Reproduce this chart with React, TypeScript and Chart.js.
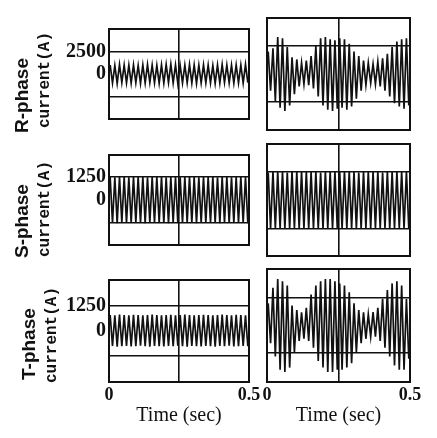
import { useEffect, useRef } from 'react';
import { Chart, registerables } from 'chart.js';

Chart.register(...registerables);

const INK = '#111111';
const TIME_START = 0;
const TIME_END = 0.5;
const HALF_CYCLES = 60;
const X_TICKS = [0, 0.25, 0.5];
const X_TICK_LABELS = ['0', '', '0.5'];
const X_TITLE = 'Time (sec)';

// R-phase (left: before, right: after)
const R_LEFT_PEAKS = [1000, 950, 1050, 1000, 980, 1020, 950, 1000, 1050, 1000, 970, 1000, 1050, 1100, 1000, 950, 1000, 1050, 1000, 980, 1020, 1000, 950, 1000, 1050, 1000, 980, 1020, 1000, 1050];
const R_LEFT_TROUGHS = [-1000, -1050, -950, -1000, -1020, -980, -1050, -1000, -950, -1000, -1030, -1000, -950, -1000, -1050, -1000, -980, -1000, -1050, -1000, -980, -1000, -1050, -1000, -950, -1000, -1020, -980, -1000, -950];
const R_RIGHT_PEAKS = [2000, 2300, 3300, 3200, 2400, 1500, 1300, 1000, 1200, 1600, 2500, 3200, 3300, 3100, 3000, 3200, 3100, 2700, 2000, 1600, 1200, 1000, 900, 1100, 1400, 1800, 2400, 2900, 3100, 3200];
const R_RIGHT_TROUGHS = [-1500, -2400, -3000, -3300, -2800, -1800, -1100, -900, -1000, -1300, -2000, -2800, -3200, -3300, -3100, -3000, -3200, -2900, -2200, -1500, -1000, -800, -900, -1100, -1500, -2000, -2600, -2900, -3100, -2800];

// S-phase
const S_LEFT_PEAKS = [1250, 1240, 1260, 1250, 1230, 1250, 1260, 1250, 1240, 1250, 1250, 1260, 1240, 1250, 1250, 1230, 1250, 1260, 1250, 1240, 1250, 1250, 1260, 1240, 1250, 1250, 1230, 1250, 1260, 1250];
const S_LEFT_TROUGHS = [-1250, -1260, -1240, -1250, -1250, -1230, -1250, -1260, -1250, -1240, -1250, -1250, -1260, -1240, -1250, -1250, -1230, -1250, -1260, -1250, -1240, -1250, -1250, -1260, -1240, -1250, -1250, -1230, -1250, -1260];
const S_RIGHT_PEAKS = [1200, 1250, 1230, 1250, 1200, 1250, 1240, 1260, 1250, 1230, 1250, 1200, 1250, 1250, 1240, 1250, 1260, 1250, 1230, 1200, 1250, 1240, 1250, 1250, 1200, 1250, 1230, 1250, 1250, 1240];
const S_RIGHT_TROUGHS = [-1250, -1240, -1250, -1260, -1250, -1230, -1250, -1250, -1240, -1250, -1260, -1250, -1230, -1250, -1250, -1240, -1250, -1250, -1260, -1250, -1230, -1250, -1250, -1240, -1250, -1260, -1250, -1230, -1250, -1250];

// T-phase
const T_LEFT_PEAKS = [800, 780, 820, 800, 790, 810, 800, 780, 800, 820, 800, 790, 800, 810, 780, 800, 820, 800, 790, 800, 810, 800, 780, 800, 820, 800, 790, 810, 800, 780];
const T_LEFT_TROUGHS = [-750, -780, -760, -750, -770, -760, -740, -760, -780, -750, -760, -770, -750, -760, -740, -760, -780, -750, -760, -770, -750, -760, -780, -750, -760, -740, -770, -760, -750, -760];
const T_RIGHT_PEAKS = [1000, 1700, 2100, 2000, 1800, 900, 700, 600, 800, 1400, 1800, 2000, 2100, 2100, 2000, 1900, 1800, 1500, 1000, 700, 600, 500, 600, 800, 1200, 1600, 1900, 2000, 1800, 1200];
const T_RIGHT_TROUGHS = [-800, -1400, -2000, -2100, -1900, -1200, -700, -600, -700, -1000, -1600, -1900, -2100, -2100, -2000, -2000, -1900, -1700, -1200, -800, -600, -500, -500, -700, -1000, -1400, -1800, -2000, -2000, -1500];

const R_GRID = 2500;
const ST_GRID = 1250;

const framePlugin = {
  id: 'frame',
  afterDatasetsDraw(chart: any) {
    const { ctx, chartArea } = chart;
    ctx.save();
    ctx.strokeStyle = INK;
    ctx.lineWidth = 2;
    ctx.strokeRect(chartArea.left, chartArea.top, chartArea.right - chartArea.left, chartArea.bottom - chartArea.top);
    ctx.restore();
  },
};

type Pad = { left: number; right: number; top: number; bottom: number };
type PanelProps = {
  peaks: number[];
  troughs: number[];
  yLimit: number;
  grid: number;
  showY: boolean;
  showX: boolean;
  left: number;
  top: number;
  width: number;
  height: number;
  pad: Pad;
  yWidth: number;
  xHeight: number;
};

function Panel(p: PanelProps) {
  const ref = useRef<HTMLCanvasElement>(null);
  useEffect(() => {
    if (!ref.current) return;
    const step = (TIME_END - TIME_START) / HALF_CYCLES;
    const points: { x: number; y: number }[] = [];
    for (let i = 0; i < p.peaks.length; i++) {
      points.push({ x: TIME_START + (2 * i + 0.5) * step, y: p.peaks[i] });
      points.push({ x: TIME_START + (2 * i + 1.5) * step, y: p.troughs[i] });
    }
    const g = p.grid;
    const chart = new Chart(ref.current, {
      type: 'line',
      data: {
        datasets: [
          {
            data: points,
            borderColor: INK,
            borderWidth: 1.7,
            pointRadius: 0,
            tension: 0,
            fill: false,
          },
        ],
      },
      options: {
        animation: false,
        responsive: false,
        events: [],
        layout: { padding: p.pad },
        plugins: { legend: { display: false }, tooltip: { enabled: false } },
        scales: {
          x: {
            type: 'linear',
            min: TIME_START,
            max: TIME_END,
            afterBuildTicks: (s: any) => {
              s.ticks = X_TICKS.map((v) => ({ value: v }));
            },
            afterFit: (s: any) => {
              s.height = p.xHeight;
            },
            grid: {
              color: (c: any) => (c.tick && c.tick.value === X_TICKS[1] ? INK : 'transparent'),
              lineWidth: 1.6,
              drawTicks: false,
            },
            border: { display: false },
            ticks: {
              display: p.showX,
              autoSkip: false,
              maxRotation: 0,
              padding: 3,
              color: INK,
              font: { family: '"Liberation Serif", serif', size: 18, weight: 'bold' },
              callback: (v: any) => {
                const idx = X_TICKS.indexOf(Number(v));
                return idx >= 0 ? X_TICK_LABELS[idx] : '';
              },
            },
            title: {
              display: p.showX,
              text: X_TITLE,
              color: INK,
              font: { family: '"Liberation Serif", serif', size: 20 },
              padding: { top: 4, bottom: 4 },
            },
          },
          y: {
            type: 'linear',
            min: -p.yLimit,
            max: p.yLimit,
            afterBuildTicks: (s: any) => {
              s.ticks = [-g, 0, g].map((v) => ({ value: v }));
            },
            afterFit: (s: any) => {
              s.width = p.yWidth;
            },
            grid: {
              color: (c: any) => (c.tick && c.tick.value !== 0 ? INK : 'transparent'),
              lineWidth: 1.6,
              drawTicks: false,
            },
            border: { display: false },
            ticks: {
              display: p.showY,
              autoSkip: false,
              padding: 3,
              color: INK,
              font: { family: '"Liberation Serif", serif', size: 20, weight: 'bold' },
              callback: (v: any) => (Number(v) === g ? String(g) : Number(v) === 0 ? '0' : ''),
            },
          },
        },
      },
      plugins: [framePlugin],
    } as any);
    return () => chart.destroy();
  }, []);
  return (
    <canvas
      ref={ref}
      width={p.width}
      height={p.height}
      style={{ position: 'absolute', left: p.left, top: p.top, width: p.width, height: p.height }}
    />
  );
}

function VLabel({ text, left, top, font, size }: { text: string; left: number; top: number; font: string; size: number }) {
  return (
    <div
      style={{
        position: 'absolute',
        left,
        top,
        transformOrigin: '0 0',
        transform: 'rotate(-90deg)',
        whiteSpace: 'nowrap',
        fontFamily: font,
        fontWeight: 'bold',
        fontSize: size,
        lineHeight: `${size}px`,
        color: INK,
      }}
    >
      {text}
    </div>
  );
}

const SANS = '"Liberation Sans", Arial, sans-serif';
const MONO = '"Liberation Mono", monospace';

export default function App() {
  const rows = [
    { peaksL: R_LEFT_PEAKS, troughsL: R_LEFT_TROUGHS, peaksR: R_RIGHT_PEAKS, troughsR: R_RIGHT_TROUGHS, grid: R_GRID, yLimit: 5000, top: 18, bottom: 130 },
    { peaksL: S_LEFT_PEAKS, troughsL: S_LEFT_TROUGHS, peaksR: S_RIGHT_PEAKS, troughsR: S_RIGHT_TROUGHS, grid: ST_GRID, yLimit: 2450, top: 144, bottom: 256 },
    { peaksL: T_LEFT_PEAKS, troughsL: T_LEFT_TROUGHS, peaksR: T_RIGHT_PEAKS, troughsR: T_RIGHT_TROUGHS, grid: ST_GRID, yLimit: 2550, top: 269, bottom: 382 },
  ];
  return (
    <div style={{ position: 'absolute', left: 0, top: 0, width: 437, height: 438, background: '#fff', overflow: 'hidden' }}>
      {rows.map((r, i) => {
        const last = i === rows.length - 1;
        const cTop = r.top - 4;
        const xH = last ? 50 : 0;
        const h = r.bottom - r.top + 8 + xH + (last ? 2 : 0);
        const pad = { top: 4, bottom: last ? 6 : 4 };
        return (
          <div key={i}>
            <Panel
              peaks={r.peaksL}
              troughs={r.troughsL}
              yLimit={r.yLimit}
              grid={r.grid}
              showY={true}
              showX={last}
              left={0}
              top={cTop}
              width={265}
              height={h}
              pad={{ left: 0, right: 16, ...pad }}
              yWidth={109}
              xHeight={xH}
            />
            <Panel
              peaks={r.peaksR}
              troughs={r.troughsR}
              yLimit={r.yLimit}
              grid={r.grid}
              showY={false}
              showX={last}
              left={259}
              top={cTop}
              width={178}
              height={h}
              pad={{ left: 8, right: 27, ...pad }}
              yWidth={0}
              xHeight={xH}
            />
          </div>
        );
      })}
      <VLabel text="R-phase" left={12} top={133} font={SANS} size={19} />
      <VLabel text="current(A)" left={37} top={128} font={MONO} size={16} />
      <VLabel text="S-phase" left={12} top={258} font={SANS} size={19} />
      <VLabel text="current(A)" left={37} top={257} font={MONO} size={16} />
      <VLabel text="T-phase" left={19} top={380} font={SANS} size={19} />
      <VLabel text="current(A)" left={44} top={383} font={MONO} size={16} />
    </div>
  );
}
